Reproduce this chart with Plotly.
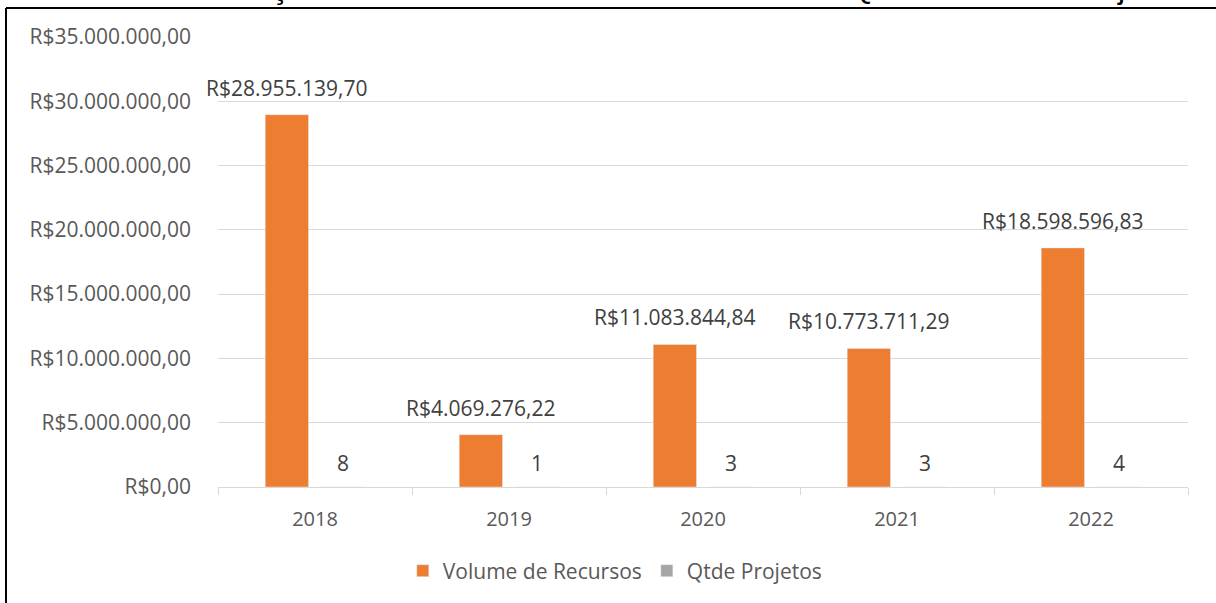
import plotly.graph_objects as go

anos = ["2018", "2019", "2020", "2021", "2022"]
volume_recursos = [28955139.70, 4069276.22, 11083844.84, 10773711.29, 18598596.83]
qtde_projetos = [8, 1, 3, 3, 4]

titulo = "Gráfico 04 – Evolução Convênios – Volume de Recursos e Quantidade de Projeto"

FONT = "Open Sans"
W, H = 1216, 603
L, R, T, B = 218, 28, 37, 116


def brl(v):
    # 28955139.7 -> "R$28.955.139,70"
    s = f"{v:,.2f}".replace(",", "X").replace(".", ",").replace("X", ".")
    return "R$" + s


fig = go.Figure()
fig.add_trace(go.Bar(x=anos, y=volume_recursos, name="Volume de Recursos",
                     marker_color="#ED7D31"))
fig.add_trace(go.Bar(x=anos, y=qtde_projetos, name="Qtde Projetos",
                     marker_color="#A5A5A5"))

# data labels like Excel: a bit higher above the bar than plotly's own text
# (category axis: "2018" would be read as an index, so use the position i)
for i, (v, q) in enumerate(zip(volume_recursos, qtde_projetos)):
    fig.add_annotation(x=i, y=v, text=brl(v), showarrow=False,
                       xshift=-28, yshift=27, yanchor="middle",
                       font=dict(family=FONT, size=21, color="#404040"))
    fig.add_annotation(x=i, y=q, text=str(q), showarrow=False,
                       xshift=28, yshift=24, yanchor="middle",
                       font=dict(family=FONT, size=21, color="#404040"))

# pixel -> paper helpers for the frame and the clipped title
pw, ph = W - L - R, H - T - B
def px_x(p):
    return (p - L) / pw
def px_y(p):
    return (H - B - p) / ph

fig.add_shape(type="line", xref="paper", yref="paper",
              x0=px_x(6), x1=px_x(1216), y0=px_y(8), y1=px_y(8),
              line=dict(color="black", width=2))
fig.add_shape(type="line", xref="paper", yref="paper",
              x0=px_x(6), x1=px_x(6), y0=px_y(8), y1=px_y(603),
              line=dict(color="black", width=2))

fig.add_annotation(text=titulo, xref="paper", yref="paper",
                   x=px_x(589), y=px_y(-13), xanchor="center", yanchor="middle",
                   showarrow=False,
                   font=dict(family="Liberation Sans", size=32, color="black"))

fig.update_layout(
    width=W, height=H,
    margin=dict(l=L, r=R, t=T, b=B),
    paper_bgcolor="white", plot_bgcolor="white",
    barmode="group", bargap=0.42, bargroupgap=0.23,
    separators=",.",
    font=dict(family=FONT, size=20, color="#595959"),
    showlegend=True,
    legend=dict(orientation="h", xref="container", yref="container",
                x=0.506, y=1 - 571 / H, xanchor="center", yanchor="middle",
                font=dict(size=21, color="#595959"), itemwidth=30),
)
fig.update_yaxes(range=[0, 35e6], dtick=5e6, tickprefix="R$", tickformat=",.2f",
                 showgrid=True, gridcolor="#D9D9D9", gridwidth=1,
                 showline=False, zeroline=False, ticklabelstandoff=26,
                 tickfont=dict(size=21, color="#595959"))
fig.update_xaxes(type="category", range=[-0.5, len(anos) - 0.5], automargin=False,
                 showline=True, linecolor="#D9D9D9", linewidth=1,
                 ticks="outside", tickson="boundaries", ticklen=7, tickcolor="#D9D9D9",
                 ticklabelstandoff=14, tickfont=dict(size=20, color="#595959"))

fig.write_html("out.html", config={"displayModeBar": False},
               post_script="document.body.style.margin='0';")
